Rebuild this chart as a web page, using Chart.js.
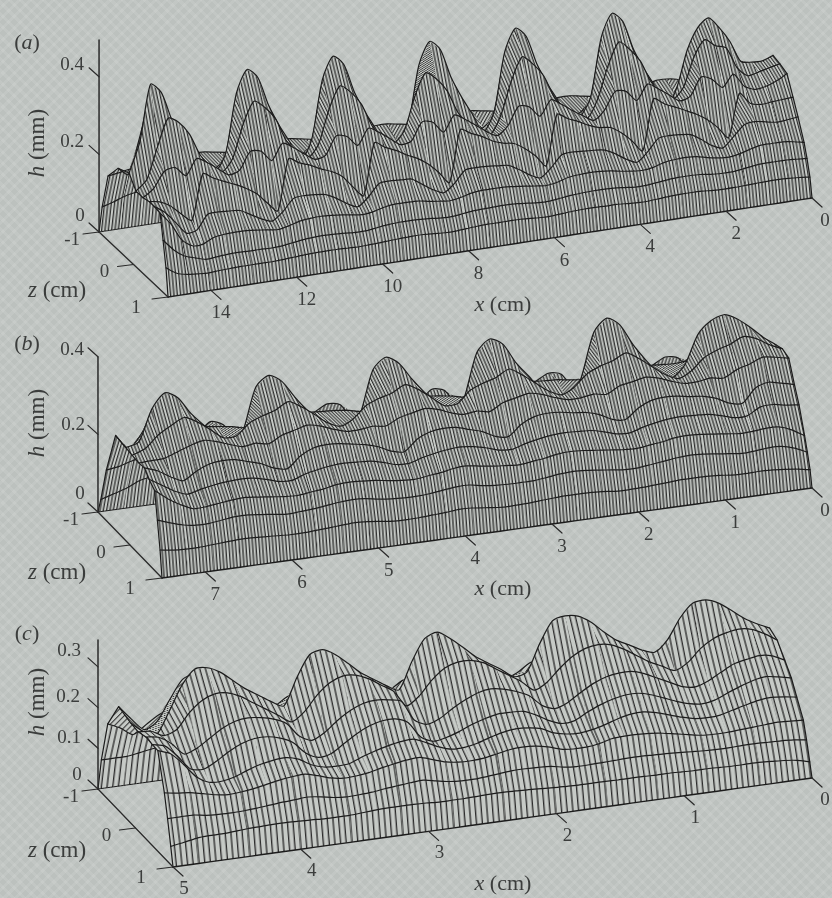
<!DOCTYPE html>
<html><head><meta charset="utf-8">
<script src="https://cdn.jsdelivr.net/npm/chart.js@4/dist/chart.umd.min.js"></script>
<style>
html,body{margin:0;padding:0;width:832px;height:898px;overflow:hidden;background-color:#bcc1be;
background-image:repeating-linear-gradient(45deg,rgba(255,255,255,.09) 0 3px,rgba(255,255,255,0) 3px 8px),repeating-linear-gradient(-45deg,rgba(255,255,255,.09) 0 3px,rgba(255,255,255,0) 3px 8px);}
canvas{position:absolute;left:0;top:0}
</style></head><body>
<canvas id="c" width="832" height="898"></canvas>
<script>
// spanwise positions of the mesh rows (cm)
const zRows=[1,.94,.855,.77,.595,.45,.275,.07,-.13,-.45,-.74,-.91,-1];
// surface heights in micrometres, one array per z row, read along x from x=0
// panel (a), x = 0..15 cm every 0.25 cm
const aH1=[49,52,54,55,55,54, 53, 52,52,53, 55,56,56,55, 53, 51,51,53, 55,55,56,56,55, 53, 51,51,53, 55,55,55,55,54, 52, 50,50,52, 54,54,53,52, 50, 49,48,49, 50,50,50,49, 47, 45,44,44, 44,44,43,42, 40, 42,45,52, 70];
const aH2=[90,92,94,94,94,92, 88, 85,85,87, 91,92,92,90, 87, 84,84,87, 90,91,91,90,88, 85, 82,82,85, 88,89,89,88,87, 84, 81,81,84, 86,87,87,85, 82, 78,78,80, 82,83,82,80, 76, 72,71,72, 72,73,72,70, 68, 76,85,105, 134];
const aH3=[124,130,134,134,134,128, 120, 116,118,123, 130,132,131,128, 120, 116,118,122, 127,130,131,130,127, 119, 115,118,122, 125,128,128,128,125, 118, 114,117,121, 126,127,127,124, 117, 113,116,120, 123,125,124,121, 113, 108,111,115, 118,118,117,113, 100, 100,120,165, 197];
const aH4=[175,172,170,175,180,176, 150, 125,135,155, 172,176,178,175, 145, 122,134,152, 166,170,172,174,171, 142, 120,132,150, 165,168,171,172,170, 140, 120,132,150, 168,170,172,170, 140, 118,130,148, 162,166,168,165, 135, 115,125,140, 155,158,160,158, 122, 118,150,180, 200];
const aH5=[214,212,210,208,215,245, 135, 165,190,208, 222,235,248,265, 135, 165,190,208, 212,222,236,248,263, 135, 165,188,205, 210,220,236,248,262, 130, 160,186,205, 218,234,246,262, 130, 157,188,205, 216,230,240,255, 125, 150,178,196, 210,222,235,250, 135, 155,180,195, 200];
const aH6=[260,245,235,232,245,280, 250, 275,285,240, 232,252,272,288, 250, 278,282,238, 216,232,250,270,286, 248, 276,282,236, 215,230,250,270,285, 245, 275,280,235, 230,250,270,285, 245, 272,278,232, 226,245,265,280, 240, 268,272,228, 220,240,260,275, 235, 260,255,215, 195];
const aH7=[268,262,255,250,275,330, 340, 360,320,245, 218,238,272,330, 365, 388,332,248, 202,216,236,270,330, 365, 388,332,246, 200,216,236,270,330, 365, 385,330,245, 216,236,270,330, 365, 385,330,243, 212,232,266,326, 360, 380,326,240, 210,230,262,320, 355, 370,300,220, 195];
const aH8=[273,263,264,270,325,365, 395, 375,320,225, 180,240,288,344,420, 445, 388,237,190, 180,240,288,344,420, 445, 388,237,190, 240,288,344,420, 445, 388,237,190, 180,240,288,344,420, 445, 388,237,190, 240,288,344,420, 445, 388,237,190, 180,240,288,344,420, 445, 300,225];
const aH9=[220,225,240,265,300,340, 330, 240,175,170, 175,200,260,330,370, 340, 200,170,170, 175,200,260,330,370, 340, 200,170,170, 200,260,330,370, 340, 200,170,170, 175,200,260,330,370, 340, 200,170,170, 200,260,330,370, 340, 200,170,170, 175,200,260,330,370, 280, 190,210];
const aH10=[170,185,195,200,190,175, 175, 190,195,195, 185,180,175,170,170, 180, 185,190,190, 185,180,175,170,170, 180, 185,190,190, 180,175,170,170, 180, 185,190,190, 185,180,175,170,170, 180, 185,190,190, 180,175,170,170, 180, 185,190,190, 185,180,175,170,170, 175, 170,166];
const aH11=[85,90,95,98,100,100, 100, 102,102,100, 98,98,98,98,100, 100, 102,102,100, 98,98,98,98,100, 100, 102,102,100, 98,98,98,100, 100, 102,102,100, 98,98,98,98,100, 100, 102,102,100, 98,98,98,100, 100, 102,102,100, 98,98,98,98,96, 90, 80,72];
// panel (b), x = 0..7.5 cm every 0.15 cm
const bH1=[42,48,52,55, 56, 55,56,60, 62,62,62,60,58, 56, 55,56,60, 62,62,62,60,58, 56, 55,56,60, 64,65,62,60, 58, 57,58,62, 66,68,66,64,62, 60, 60,62,64, 66,66,64,62, 60, 60,62,67];
const bH2=[80,95,104,105, 102, 100,104,108, 112,114,112,108,104, 100, 100,104,108, 112,114,112,108,104, 104, 104,106,110, 116,116,112,108, 106, 106,108,112, 118,120,118,114,110, 108, 106,110,114, 118,118,114,110, 110, 115,125,137];
const bH3=[115,135,147,148, 145, 144,148,152, 156,158,156,150,146, 142, 144,148,152, 156,158,156,150,146, 142, 145,148,153, 158,156,150,146, 142, 144,148,153, 156,158,156,150,146, 142, 144,148,152, 156,154,150,146, 145, 160,180,206];
const bH4=[180,184,190,188, 170, 170,180,188, 190,192,190,185,178, 168, 170,180,188, 190,192,190,185,178, 168, 170,180,188, 192,190,185,178, 168, 170,180,188, 190,192,190,185,178, 166, 168,178,186, 188,186,182,176, 168, 180,200,220];
const bH5=[220,228,235,225, 190, 195,212,222, 226,232,234,230,215, 190, 195,212,222, 226,232,234,230,215, 188, 193,210,220, 230,232,228,214, 186, 192,208,218, 224,230,232,228,212, 184, 190,206,216, 226,228,224,210, 190, 205,225,237];
const bH6=[273,280,285,272, 262, 245,250,245, 245,255,268,275,268, 262, 245,250,245, 245,255,268,275,268, 260, 242,248,244, 253,266,273,266, 258, 242,246,242, 242,252,265,272,264, 255, 238,244,240, 250,262,270,262, 250, 238,236,235];
const bH7=[280,295,315,325, 310, 300,285,255, 240,255,280,305,325, 310, 300,285,255, 240,255,280,305,325, 308, 298,284,254, 254,280,305,322, 305, 296,282,252, 238,252,278,302,320, 302, 292,278,250, 250,276,300,316, 300, 280,250,237];
const bH8=[273,298,328,354, 369, 358,327,254, 225,240,280,325,380, 402, 370,255,195, 225,240,280,320,372, 390, 360,245,195, 240,275,315,360, 380, 352,240,190, 220,235,270,310,355, 375, 350,240,190, 235,270,305,350, 367, 330,250,240];
const bH9=[230,260,290,320, 290, 285,235,230, 232,235,250,295,340, 325, 225,225,230, 232,235,250,295,335, 320, 220,225,230, 235,250,295,335, 315, 220,225,230, 232,235,250,295,335, 315, 220,225,230, 235,250,295,330, 300, 240,205,244];
const bH10=[190,205,210,205, 180, 170,215,222, 205,190,175,170,165, 165, 170,215,222, 205,190,175,170,165, 165, 170,215,222, 190,175,170,165, 165, 170,215,222, 205,190,175,170,165, 160, 165,205,218, 190,175,170,160, 150, 145,135,130];
const bH11=[70,78,82,85, 85, 85,88,90, 88,86,85,85,85, 85, 85,88,90, 88,86,85,85,85, 85, 85,88,90, 86,85,85,85, 85, 85,88,90, 88,86,85,85,85, 85, 85,88,88, 84,82,82,80, 75, 60,50,40];
// panel (c), x = 0..5 cm every 0.1 cm
const cH1=[34,42,46,48,50, 50, 50,51,52, 52,53,54,54,55,55,55, 56, 56,56,57, 58,60,62,63,64,64, 63, 62,62,62, 64,65,65,65,64, 62, 60,60,60, 62,63,64,64,63,62, 60, 58,58,56,50,45];
const cH2=[80,84,86,87,88, 88, 87,87,88, 90,92,94,95,96,96,95, 94, 93,93,96, 102,104,105,105,102,99, 97, 97,100,106, 112,110,107,104,100, 98, 97,100,106, 110,108,106,103,100,98, 97, 98,100,105,105,105];
const cH3=[120,122,124,122,120, 118, 116,116,118, 124,130,136,140,142,142,140, 132, 128,128,132, 142,148,150,148,142,136, 134, 135,140,150, 160,158,153,147,140, 136, 135,140,150, 158,156,152,146,140,136, 134, 138,145,152,155,160];
const cH4=[160,165,168,165,158, 150, 142,140,142, 150,160,170,176,175,168,158, 150, 146,148,155, 170,176,178,174,166,156, 150, 150,160,175, 188,186,180,172,162, 150, 148,150,160, 178,186,184,178,168,156, 150, 152,170,205,235,247];
const cH5=[193,200,205,200,190, 178, 165,160,165, 175,188,200,208,208,202,192, 178, 162,160,172, 190,203,205,205,198,188, 175, 165,160,175, 215,228,228,220,205, 185, 165,160,175, 205,220,228,228,220,205, 185, 170,175,210,240,248];
const cH6=[220,235,240,235,228, 212, 195,185,190, 205,220,235,245,245,240,228, 210, 190,180,192, 220,235,245,250,245,232, 215, 195,185,200, 250,258,262,258,245, 225, 200,185,200, 235,250,258,262,258,245, 225, 205,195,225,245,250];
const cH7=[250,270,285,290,285, 275, 255,225,210, 225,240,260,280,295,300,295, 280, 255,225,210, 235,255,275,295,305,305, 295, 270,235,215, 255,275,295,308,310, 298, 272,235,215, 235,255,275,295,308,310, 298, 272,235,225,240,243];
const cH8=[260,275,293,317,339, 351, 348,316,266, 240,250,267,283,308,336,355, 360, 352,300,235, 228,250,270,290,318,344, 364, 352,300,235, 250,270,290,318,344, 360, 352,300,235, 250,270,290,315,340,355, 356, 320,260,207,220,246];
const cH9=[225,240,260,280,298, 300, 265,220,195, 200,210,230,250,270,300,310, 305, 260,200,170, 210,230,250,270,300,310, 300, 260,200,170, 230,250,270,300,310, 300, 260,200,170, 210,230,250,270,300,310, 300, 255,205,190,220,255];
const cH10=[170,180,190,195,200, 200, 190,175,165, 165,170,180,190,200,200,200, 200, 190,170,160, 170,180,190,200,200,200, 200, 190,170,160, 180,190,200,200,200, 200, 190,170,160, 170,180,190,200,200,200, 200, 190,170,150,170,185];
const cH11=[75,80,85,88,90, 92, 90,88,85, 85,86,88,90,92,92,92, 92, 90,88,85, 86,88,90,92,92,92, 92, 90,88,85, 88,90,92,92,92, 92, 90,88,85, 86,88,90,92,92,92, 92, 90,85,80,80,80];
// tick labels
const aHTicks=[0,0.2,0.4], bHTicks=[0,0.2,0.4], cHTicks=[0,0.1,0.2,0.3];
const zTicks=[-1,0,1];
const aXTicks=[0,2,4,6,8,10,12,14], bXTicks=[0,1,2,3,4,5,6,7], cXTicks=[0,1,2,3,4,5];
const panelNames=['a','b','c'];

const panels=[
 {name:'a',rows:[aH1,aH2,aH3,aH4,aH5,aH6,aH7,aH8,aH9,aH10,aH11],dx:.25,o:[812,198],ex:[-42.93,6.6],ez:[-69,-65],eh:388,hT:aHTicks,xT:aXTicks,top:40,
  hL:[[80,216],[72,142],[72,65]],tile:[10,3],title:[27,43],hTitle:[38,143],zTitle:[57,291],xTitle:[503,305],lab:[13,10,23]},
 {name:'b',rows:[bH1,bH2,bH3,bH4,bH5,bH6,bH7,bH8,bH9,bH10,bH11],dx:.15,o:[812,488],ex:[-86.67,12],ez:[-64,-66],eh:388,hT:bHTicks,xT:bXTicks,top:357,
  hL:[[80,494],[73,425],[72,350]],tile:[10,3],title:[27,344],hTitle:[38,423],zTitle:[57,573],xTitle:[503,589],lab:[13,10,23]},
 {name:'c',rows:[cH1,cH2,cH3,cH4,cH5,cH6,cH7,cH8,cH9,cH10,cH11],dx:.1,o:[812,778],ex:[-127.8,17.8],ez:[-75,-78],eh:407,hT:cHTicks,xT:cXTicks,top:640,
  hL:[[77,775],[69,738],[68,697],[69,651]],tile:[17,3],title:[27,634],hTitle:[38,702],zTitle:[57,851],xTitle:[503,884],lab:[13,11,22]}
];

function proj(p,x,z,hMicron){
  const t=(1-z)/2;
  return {x:p.o[0]+p.ex[0]*x+p.ez[0]*t, y:p.o[1]+p.ex[1]*x+p.ez[1]*t-(hMicron/1000)*p.eh};
}
function makeTile(w,count,lw){
  const c=document.createElement('canvas');c.width=w;c.height=4;
  const g=c.getContext('2d');g.fillStyle='#c6cac6';g.fillRect(0,0,w,4);
  g.fillStyle='#2b2b2b';
  for(let k=0;k<count;k++){g.fillRect(k*w/count,0,lw,4);}
  return c;
}
const ctx0=document.getElementById('c').getContext('2d');
const backToFront=[];
function lineDs(pts,w,col){
  return {type:'line',data:pts,showLine:true,parsing:false,fill:false,borderColor:col,borderWidth:w,pointRadius:0,tension:0,borderCapStyle:'round',borderJoinStyle:'round'};
}
panels.forEach(p=>{
  const n=p.rows[0].length;
  const zero=p.rows[0].map(()=>0);
  const H=[zero,...p.rows,zero];
  const tile=makeTile(p.tile[0],p.tile[1],p.name==='c'?1.35:1.3);
  const xs=i=>i*p.dx;
  const P=H.map((r,j)=>r.map((h,i)=>proj(p,xs(i),zRows[j],h)));
  // strips from the back wall to the front wall
  for(let j=H.length-2;j>=0;j--){
    for(let i=0;i<n-1;i+=2){
      const e=Math.min(i+2,n-1);
      const poly=[];
      for(let k=i;k<=e;k++)poly.push(P[j][k]);
      for(let k=e;k>=i;k--)poly.push(P[j+1][k]);
      poly.push(P[j][i]);
      let vx=0,vy=0,ym=0;
      for(const k of [i,e]){vx+=P[j+1][k].x-P[j][k].x;vy+=P[j+1][k].y-P[j][k].y;ym+=P[j][k].y;}
      vx/=2;vy/=2;ym/=2;
      let lean=Math.abs(vy)<.01?3:vx/vy;
      lean=Math.max(-3,Math.min(3,lean));
      const shift=p.ez[0]*(1-zRows[j])/2;
      const pat=ctx0.createPattern(tile,'repeat');
      pat.setTransform(new DOMMatrix([1,0,lean,1,shift-lean*ym,0]));
      backToFront.push({type:'line',data:poly,showLine:true,parsing:false,fill:'shape',backgroundColor:pat,borderWidth:0,borderColor:'rgba(0,0,0,0)',pointRadius:0,tension:0});
    }
    const d=lineDs(P[j+1],j+1===H.length-1?1:1.2,'#1c1c1c');d.tension=.25;
    backToFront.push(d);
  }
  // front edge and the two end profiles: at x=0 only the part in front of the crest shows
  backToFront.push(lineDs(P[0],1.4,'#1c1c1c'));
  backToFront.push(lineDs(H.slice(0,9).map((_,j)=>P[j][0]),1.2,'#1c1c1c'));
  backToFront.push(lineDs(H.map((_,j)=>P[j][n-1]),1.2,'#1c1c1c'));
  // height axis, z axis and ticks
  const maxX=(n-1)*p.dx;
  const back=proj(p,maxX,-1,0),front=proj(p,maxX,1,0);
  backToFront.push(lineDs([back,{x:back.x,y:p.top}],1.5,'#2a2a2a'));
  backToFront.push(lineDs([back,front],1.3,'#2a2a2a'));
  p.hT.forEach(v=>{const a=proj(p,maxX,-1,v*1000);backToFront.push(lineDs([a,{x:a.x-10,y:a.y-9}],1.2,'#2a2a2a'));});
  zTicks.forEach(v=>{const a=proj(p,maxX,v,0);backToFront.push(lineDs([a,{x:a.x-16,y:a.y+2}],1.2,'#2a2a2a'));});
  p.xT.forEach(v=>{const a=proj(p,v,1,0);backToFront.push(lineDs([a,{x:a.x+10,y:a.y+9}],1.2,'#2a2a2a'));});
});

const SERIF='"Liberation Serif"';
function parts(ctx,items,x,y,size,rot){
  ctx.save();ctx.translate(x,y);if(rot)ctx.rotate(rot);
  ctx.textBaseline='middle';ctx.textAlign='left';ctx.fillStyle='#3b3d3c';
  let w=0;items.forEach(t=>{ctx.font=(t[1]?'italic ':'')+size+'px '+SERIF;w+=ctx.measureText(t[0]).width;});
  let cx=-w/2;items.forEach(t=>{ctx.font=(t[1]?'italic ':'')+size+'px '+SERIF;ctx.fillText(t[0],cx,0);cx+=ctx.measureText(t[0]).width;});
  ctx.restore();
}
const labels={id:'labels',afterDraw(chart){
  const ctx=chart.ctx,sx=chart.scales.x,sy=chart.scales.y;
  const X=v=>sx.getPixelForValue(v),Y=v=>sy.getPixelForValue(v);
  panels.forEach((p,idx)=>{
    parts(ctx,[['(',0],[panelNames[idx],1],[')',0]],X(p.title[0]),Y(p.title[1]),22);
    parts(ctx,[['h',1],[' (mm)',0]],X(p.hTitle[0]),Y(p.hTitle[1]),23,-Math.PI/2);
    parts(ctx,[['z',1],[' (cm)',0]],X(p.zTitle[0]),Y(p.zTitle[1]),23);
    parts(ctx,[['x',1],[' (cm)',0]],X(p.xTitle[0]),Y(p.xTitle[1]),22);
    p.hT.forEach((v,i)=>parts(ctx,[[v===0?'0':v.toFixed(1),0]],X(p.hL[i][0]),Y(p.hL[i][1]),19));
    const maxX=(p.rows[0].length-1)*p.dx;
    zTicks.forEach(v=>{const a=proj(p,maxX,v,0);parts(ctx,[[String(v),0]],X(a.x-(v===-1?27:(v===0?29:32))),Y(a.y+(v===-1?8:(v===0?8:11))),19);});
    p.xT.forEach(v=>{const a=proj(p,v,1,0);parts(ctx,[[String(v),0]],X(a.x+(v===0?p.lab[0]:p.lab[1])),Y(a.y+p.lab[2]),19);});
  });
}};
new Chart(document.getElementById('c'),{
  type:'scatter',
  data:{datasets:backToFront.slice().reverse()},
  options:{responsive:false,animation:false,events:[],
    layout:{padding:0},
    elements:{line:{capBezierPoints:false}},
    scales:{x:{type:'linear',min:0,max:832,display:false},y:{type:'linear',min:0,max:898,reverse:true,display:false}},
    plugins:{legend:{display:false},tooltip:{enabled:false}}},
  plugins:[labels]
});
</script>
</body></html>
